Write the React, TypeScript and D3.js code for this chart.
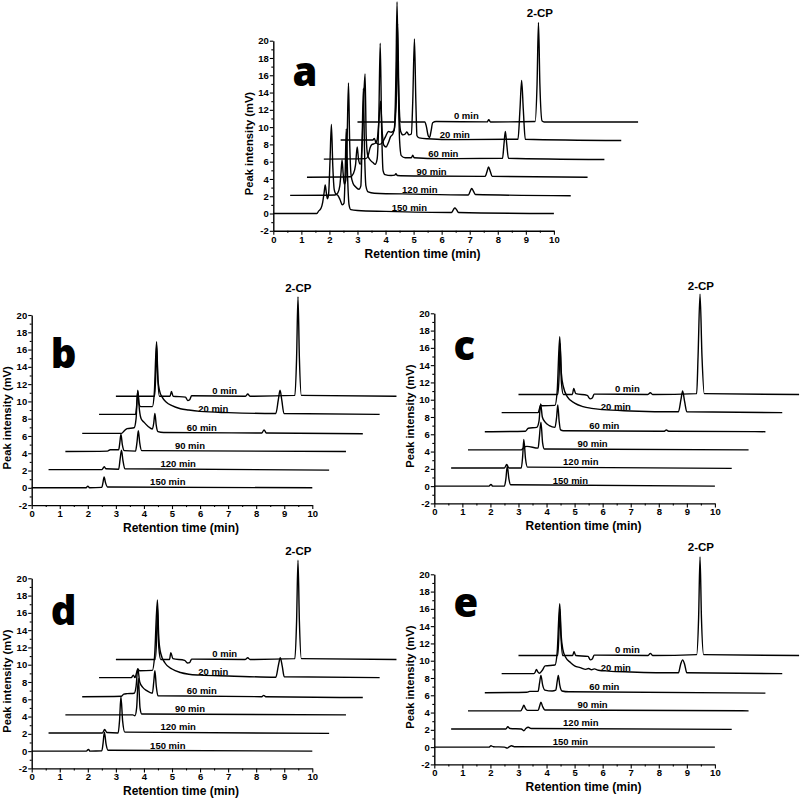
import React, { useEffect, useRef } from "react";
import * as d3 from "d3";

type Pt = [number, number];

// trace names, top (0 min) to bottom (150 min)
const timeLabels = ["0 min", "20 min", "60 min", "90 min", "120 min", "150 min"];
const traceBase = [10.6, 8.5, 6.3, 4.2, 2.1, 0];
const labelX = [6.88, 6.47, 6.06, 5.64, 5.22, 4.85];

const xTickValues = [0, 1, 2, 3, 4, 5, 6, 7, 8, 9, 10];
const xMinorValues = [0.5, 1.5, 2.5, 3.5, 4.5, 5.5, 6.5, 7.5, 8.5, 9.5];
const yTickValues = [-2, 0, 2, 4, 6, 8, 10, 12, 14, 16, 18, 20];
const yMinorValues = [-1, 1, 3, 5, 7, 9, 11, 13, 15, 17, 19];

const panelLetters = ["a", "b", "c", "d", "e"];
const letterY = [14.8, 13.9, 14.6, 14.6, 15.1];

// points (retention time as plotted, intensity as plotted)
const tracesA: Pt[][] = [
  [[3.0, 10.6], [4.32, 10.6], [4.37, 13], [4.43, 22], [4.48, 13], [4.54, 10.6], [5.4, 10.6], [5.46, 10.0], [5.52, 9.0], [5.57, 8.8], [5.62, 9.5], [5.68, 10.5], [5.8, 10.65], [7.62, 10.6], [7.68, 10.85], [7.74, 10.6], [9.33, 10.65], [9.4, 15], [9.45, 22.1], [9.5, 15], [9.58, 10.7], [9.65, 10.6], [13.0, 10.6]],
  [[2.4, 8.5], [3.55, 8.5], [3.6, 8.7], [3.66, 8.2], [3.8, 8.0], [3.9, 8.3], [4.0, 8.9], [4.1, 9.5], [4.2, 9.4], [4.3, 9.6], [4.38, 13], [4.43, 19], [4.48, 12], [4.54, 9.5], [4.62, 9.1], [4.7, 9.2], [4.76, 9.45], [4.83, 9.1], [4.92, 9.2], [4.97, 13], [5.03, 20.2], [5.08, 13], [5.12, 9.0], [5.2, 8.75], [5.5, 8.65], [6.5, 8.55], [8.72, 8.6], [8.79, 12], [8.85, 15.4], [8.91, 12], [8.98, 8.6], [12.4, 8.45]],
  [[1.8, 6.3], [3.3, 6.35], [3.38, 6.7], [3.45, 7.6], [3.52, 8.0], [3.62, 8.1], [3.7, 8.5], [3.76, 10.5], [3.82, 13.0], [3.88, 9.5], [3.94, 7.9], [4.02, 7.7], [4.1, 8.2], [4.18, 8.9], [4.26, 9.2], [4.32, 10], [4.37, 16], [4.41, 24.5], [4.45, 16], [4.5, 8.5], [4.56, 6.7], [4.7, 6.45], [4.92, 6.45], [4.97, 6.75], [5.02, 6.45], [6, 6.35], [8.17, 6.4], [8.22, 8], [8.27, 9.5], [8.32, 8], [8.38, 6.4], [11.8, 6.25]],
  [[1.2, 4.2], [2.75, 4.25], [2.85, 4.6], [2.93, 5.6], [2.99, 7.7], [3.04, 6.2], [3.1, 5.7], [3.17, 8.5], [3.22, 13], [3.27, 16.15], [3.31, 9], [3.36, 6.8], [3.45, 6.2], [3.55, 5.9], [3.63, 5.7], [3.7, 6.3], [3.76, 11], [3.81, 19.7], [3.86, 10], [3.91, 5.0], [3.98, 4.5], [4.2, 4.4], [4.33, 4.45], [4.37, 4.6], [4.42, 4.4], [5, 4.35], [7.55, 4.3], [7.62, 4.9], [7.67, 5.4], [7.73, 4.9], [7.8, 4.3], [11.2, 4.2]],
  [[0.6, 2.1], [2.2, 2.15], [2.3, 2.4], [2.37, 3.2], [2.41, 4.6], [2.45, 6.2], [2.49, 4.6], [2.53, 3.4], [2.58, 3.8], [2.63, 8.5], [2.68, 15.1], [2.72, 8.5], [2.77, 4.5], [2.84, 3.5], [2.93, 3.1], [3.05, 2.8], [3.12, 3.2], [3.16, 7.5], [3.21, 14.5], [3.25, 7.5], [3.3, 3.2], [3.38, 2.5], [3.6, 2.35], [5.0, 2.25], [6.95, 2.15], [7.02, 2.6], [7.07, 2.9], [7.13, 2.6], [7.2, 2.2], [10.6, 2.05]],
  [[0, 0], [1.55, 0], [1.62, 0.3], [1.7, 0.6], [1.76, 1.3], [1.81, 2.4], [1.85, 3.3], [1.89, 2.4], [1.93, 1.7], [1.97, 2.2], [2.02, 6.0], [2.07, 10.3], [2.12, 5.5], [2.17, 2.8], [2.22, 2.3], [2.3, 2.1], [2.38, 1.6], [2.46, 1.0], [2.52, 1.2], [2.56, 4.5], [2.6, 9.8], [2.65, 4.0], [2.7, 1.0], [2.76, 0.45], [3.0, 0.35], [4.0, 0.25], [6.35, 0.12], [6.42, 0.45], [6.47, 0.65], [6.53, 0.45], [6.6, 0.12], [10, 0]],
];

const tracesB: Pt[][] = [
  [[3.0, 10.6], [4.38, 10.6], [4.42, 13], [4.45, 16.5], [4.49, 13], [4.55, 10.6], [4.93, 10.6], [4.98, 11.15], [5.04, 10.6], [5.48, 10.5], [5.56, 10.1], [5.63, 10.2], [5.7, 10.65], [7.62, 10.6], [7.7, 10.85], [7.78, 10.6], [9.38, 10.7], [9.44, 15], [9.49, 22.1], [9.54, 15], [9.61, 10.7], [13.0, 10.6]],
  [[2.4, 8.5], [3.7, 8.5], [3.74, 9.5], [3.78, 11.2], [3.82, 9.8], [3.88, 9.4], [4.3, 9.4], [4.37, 11], [4.45, 16.9], [4.5, 12.5], [4.56, 11.2], [4.65, 10.5], [4.8, 9.9], [5.0, 9.5], [5.3, 9.15], [5.6, 9.0], [6.0, 8.85], [7.0, 8.7], [8.7, 8.6], [8.79, 10.2], [8.85, 11.3], [8.91, 10.2], [8.99, 8.6], [12.4, 8.5]],
  [[1.8, 6.3], [3.2, 6.3], [3.3, 6.6], [3.4, 6.85], [3.65, 6.95], [3.72, 8.0], [3.78, 11.3], [3.84, 9.0], [3.9, 8.0], [4.0, 7.6], [4.15, 7.1], [4.3, 6.8], [4.35, 7.5], [4.39, 8.6], [4.44, 7.2], [4.5, 6.5], [4.7, 6.4], [8.2, 6.35], [8.28, 6.7], [8.36, 6.35], [11.8, 6.25]],
  [[1.2, 4.2], [2.7, 4.25], [2.8, 4.4], [3.1, 4.4], [3.14, 5.2], [3.18, 6.2], [3.23, 5.0], [3.3, 4.3], [3.7, 4.25], [3.75, 5.2], [3.8, 6.6], [3.85, 5.2], [3.92, 4.3], [11.2, 4.2]],
  [[0.6, 2.1], [2.5, 2.1], [2.55, 2.3], [2.59, 2.45], [2.64, 2.2], [3.1, 2.15], [3.15, 3.3], [3.2, 4.35], [3.25, 3.2], [3.32, 2.2], [10.6, 2.05]],
  [[0, 0], [1.94, 0], [2.0, 0.2], [2.06, 0], [2.5, 0.05], [2.54, 0.6], [2.58, 1.27], [2.63, 0.6], [2.7, 0.1], [10, 0]],
];

const tracesC: Pt[][] = [
  [[3.0, 10.6], [4.4, 10.6], [4.45, 13], [4.48, 16.5], [4.53, 12], [4.6, 10.6], [4.92, 10.6], [4.97, 11.3], [5.04, 10.7], [5.45, 10.5], [5.55, 10.1], [5.63, 10.2], [5.7, 10.65], [7.6, 10.6], [7.7, 10.8], [7.78, 10.6], [9.35, 10.7], [9.4, 15], [9.47, 22.2], [9.54, 15], [9.62, 10.7], [13.0, 10.6]],
  [[2.4, 8.5], [3.7, 8.5], [3.75, 9.0], [3.79, 9.4], [3.85, 9.3], [4.3, 9.35], [4.38, 11], [4.47, 17.3], [4.53, 13], [4.6, 11.5], [4.75, 10.3], [5.0, 9.6], [5.3, 9.2], [5.6, 9.0], [6.0, 8.85], [7.0, 8.7], [8.7, 8.6], [8.79, 10], [8.85, 11.0], [8.92, 9.8], [9.0, 8.6], [12.4, 8.5]],
  [[1.8, 6.3], [3.25, 6.35], [3.35, 6.7], [3.65, 6.8], [3.73, 7.5], [3.79, 9.5], [3.85, 8.0], [3.95, 7.4], [4.1, 7.0], [4.3, 6.8], [4.36, 8], [4.4, 9.4], [4.45, 7.5], [4.5, 6.5], [4.6, 6.4], [8.2, 6.35], [8.27, 6.5], [8.35, 6.35], [11.8, 6.3]],
  [[1.2, 4.2], [3.1, 4.2], [3.2, 4.5], [3.3, 4.6], [3.7, 4.4], [3.74, 5.5], [3.8, 7.4], [3.86, 5.0], [3.92, 4.3], [11.2, 4.2]],
  [[0.6, 2.1], [2.5, 2.1], [2.58, 2.5], [2.66, 2.1], [3.1, 2.1], [3.15, 3.5], [3.19, 5.4], [3.25, 3.2], [3.32, 2.2], [10.6, 2.05]],
  [[0, 0], [1.95, 0], [2.02, 0.2], [2.08, 0], [2.5, 0], [2.55, 0.8], [2.6, 2.3], [2.66, 0.8], [2.72, 0.15], [10, 0]],
];

const tracesD: Pt[][] = [
  [[3.0, 10.6], [4.4, 10.6], [4.45, 13], [4.48, 16.8], [4.53, 12], [4.6, 10.6], [4.91, 10.6], [4.96, 11.4], [5.03, 10.7], [5.45, 10.5], [5.55, 10.2], [5.63, 10.25], [5.7, 10.65], [7.6, 10.6], [7.7, 10.8], [7.78, 10.6], [9.38, 10.7], [9.44, 15], [9.49, 22.1], [9.54, 15], [9.61, 10.7], [13.0, 10.6]],
  [[2.4, 8.5], [3.55, 8.5], [3.62, 8.8], [3.68, 8.5], [3.73, 9.0], [3.78, 9.5], [3.84, 9.3], [4.3, 9.35], [4.38, 11], [4.48, 17.5], [4.53, 13], [4.6, 11.3], [4.75, 10.2], [5.0, 9.5], [5.3, 9.1], [5.6, 8.9], [6.0, 8.8], [7.0, 8.7], [8.7, 8.55], [8.79, 9.9], [8.86, 10.8], [8.93, 9.8], [9.0, 8.6], [12.4, 8.5]],
  [[1.8, 6.3], [3.2, 6.35], [3.28, 6.6], [3.4, 6.65], [3.65, 6.7], [3.72, 7.5], [3.78, 9.55], [3.85, 8.0], [3.95, 7.4], [4.1, 7.0], [4.3, 6.7], [4.35, 8], [4.39, 9.3], [4.44, 7.5], [4.5, 6.4], [8.2, 6.3], [8.27, 6.45], [8.34, 6.3], [11.8, 6.2]],
  [[1.2, 4.2], [3.6, 4.2], [3.68, 4.1], [3.74, 5.0], [3.8, 8.4], [3.86, 5.0], [3.92, 4.3], [11.2, 4.2]],
  [[0.6, 2.1], [2.52, 2.1], [2.6, 2.5], [2.68, 2.15], [3.08, 2.1], [3.13, 3.5], [3.18, 6.3], [3.24, 3.5], [3.32, 2.2], [10.6, 2.05]],
  [[0, 0], [1.95, 0], [2.02, 0.2], [2.08, 0], [2.5, 0.05], [2.54, 0.8], [2.59, 2.2], [2.65, 0.8], [2.72, 0.1], [10, 0]],
];

const tracesE: Pt[][] = [
  [[3.0, 10.6], [4.4, 10.6], [4.44, 13], [4.47, 16], [4.51, 13], [4.57, 10.6], [4.93, 10.6], [4.98, 11.05], [5.04, 10.6], [5.48, 10.5], [5.56, 10.1], [5.63, 10.2], [5.7, 10.65], [7.62, 10.6], [7.7, 10.85], [7.78, 10.6], [9.35, 10.7], [9.42, 15], [9.47, 22.0], [9.52, 15], [9.6, 10.7], [13.0, 10.6]],
  [[2.4, 8.5], [3.55, 8.5], [3.6, 8.7], [3.64, 9.0], [3.69, 8.7], [3.75, 8.55], [3.85, 8.9], [3.95, 9.4], [4.3, 9.5], [4.38, 11], [4.47, 16.6], [4.52, 13], [4.58, 11.3], [4.68, 10.4], [4.85, 9.8], [5.0, 9.4], [5.2, 9.2], [5.4, 9.0], [5.5, 9.1], [5.6, 8.95], [5.7, 9.05], [5.85, 8.9], [6.2, 8.8], [7.0, 8.7], [8.7, 8.6], [8.78, 9.6], [8.85, 10.1], [8.92, 9.6], [9.0, 8.6], [12.4, 8.5]],
  [[1.8, 6.3], [3.3, 6.35], [3.4, 6.45], [3.7, 6.45], [3.75, 7.4], [3.8, 8.3], [3.86, 7.2], [3.94, 6.6], [4.2, 6.5], [4.33, 6.6], [4.38, 7.6], [4.42, 8.3], [4.47, 7.2], [4.55, 6.5], [4.8, 6.4], [11.8, 6.25]],
  [[1.2, 4.2], [3.08, 4.2], [3.14, 4.5], [3.19, 4.85], [3.25, 4.45], [3.32, 4.25], [3.7, 4.25], [3.75, 4.7], [3.8, 5.2], [3.86, 4.7], [3.94, 4.3], [11.2, 4.2]],
  [[0.6, 2.1], [2.55, 2.1], [2.62, 2.35], [2.7, 2.15], [3.1, 2.1], [3.19, 1.9], [3.26, 2.15], [3.35, 2.3], [3.45, 2.15], [10.6, 2.05]],
  [[0, 0], [1.95, 0], [2.02, 0.15], [2.1, 0.05], [2.5, 0], [2.6, -0.12], [2.68, 0.05], [2.75, 0.15], [2.85, 0.05], [10, 0]],
];

const panelTraces = [tracesA, tracesB, tracesC, tracesD, tracesE];

// pixel position of each panel's (x = 0, y = 20) corner
const panelOrigins = [
  { left: 273.3, top: 40.7 },
  { left: 31.7, top: 315 },
  { left: 434.3, top: 313.3 },
  { left: 31.7, top: 578.3 },
  { left: 434.3, top: 574.3 },
];

const PLOT_W = 280.6;
const PLOT_H = 190.1;
const FONT = "'Liberation Sans', Arial, sans-serif";

export default function App() {
  const svgRef = useRef<SVGSVGElement | null>(null);

  useEffect(() => {
    const svg = d3.select(svgRef.current);
    svg.selectAll("*").remove();

    panelTraces.forEach((traces, k) => {
      const { left, top } = panelOrigins[k];
      const x = d3.scaleLinear().domain([0, 10]).range([left, left + PLOT_W]);
      const y = d3.scaleLinear().domain([-2, 20]).range([top + PLOT_H, top]);
      const g = svg.append("g");

      // === axes ===
      const styleAxis = (ax: d3.Selection<SVGGElement, unknown, null, undefined>) => {
        ax.attr("font-family", FONT).attr("font-size", 9.5).attr("font-weight", "bold");
        ax.selectAll(".domain").attr("stroke", "#000").attr("stroke-width", 1.4);
        ax.selectAll(".tick line").attr("stroke", "#000").attr("stroke-width", 1.1);
        ax.selectAll(".tick text").attr("fill", "#000");
      };

      const gx = g.append("g").attr("transform", `translate(0,${y(-2)})`)
        .call(d3.axisBottom(x).tickValues(xTickValues).tickSize(4).tickSizeOuter(0).tickPadding(1).tickFormat((d) => String(d)));
      styleAxis(gx);
      const gxm = g.append("g").attr("transform", `translate(0,${y(-2)})`)
        .call(d3.axisBottom(x).tickValues(xMinorValues).tickSize(2).tickSizeOuter(0).tickFormat(() => ""));
      styleAxis(gxm);
      gxm.select(".domain").remove();

      const gy = g.append("g").attr("transform", `translate(${x(0)},0)`)
        .call(d3.axisLeft(y).tickValues(yTickValues).tickSize(3.5).tickSizeOuter(0).tickPadding(1).tickFormat((d) => String(d)));
      styleAxis(gy);
      const gym = g.append("g").attr("transform", `translate(${x(0)},0)`)
        .call(d3.axisLeft(y).tickValues(yMinorValues).tickSize(2).tickSizeOuter(0).tickFormat(() => ""));
      styleAxis(gym);
      gym.select(".domain").remove();

      // === axis titles ===
      g.append("text")
        .attr("x", x(5.32)).attr("y", y(-2) + 27)
        .attr("text-anchor", "middle")
        .attr("font-family", FONT).attr("font-size", 12).attr("font-weight", "bold")
        .text("Retention time (min)");
      g.append("text")
        .attr("transform", `translate(${x(0) - 20.5},${y(8.1)}) rotate(-90)`)
        .attr("text-anchor", "middle")
        .attr("font-family", FONT).attr("font-size", 11.2).attr("font-weight", "bold")
        .text("Peak intensity (mV)");

      // === chromatogram traces ===
      const lineGen = d3.line<Pt>()
        .x((d) => x(d[0]))
        .y((d) => y(d[1]))
        .curve(d3.curveMonotoneX);

      g.selectAll("path.trace")
        .data(traces)
        .enter()
        .append("path")
        .attr("class", "trace")
        .attr("fill", "none")
        .attr("stroke", "#000")
        .attr("stroke-width", 1.4)
        .attr("stroke-linejoin", "round")
        .attr("d", (d) => lineGen(d));

      // === trace labels ===
      g.selectAll("text.tlabel")
        .data(timeLabels)
        .enter()
        .append("text")
        .attr("class", "tlabel")
        .attr("x", (_, i) => x(labelX[i]))
        .attr("y", (_, i) => y(traceBase[i]) - 2.5)
        .attr("text-anchor", "middle")
        .attr("font-family", FONT).attr("font-size", 9.5).attr("font-weight", "bold")
        .text((d) => d);

      g.append("text")
        .attr("x", x(9.5)).attr("y", y(22.7))
        .attr("text-anchor", "middle")
        .attr("font-family", FONT).attr("font-size", 11.5).attr("font-weight", "bold")
        .text("2-CP");

      g.append("text")
        .attr("x", x(0.68)).attr("y", y(letterY[k]))
        .attr("font-family", "'Open Sans', sans-serif").attr("font-size", 40).attr("font-weight", 800)
        .text(panelLetters[k]);
    });
  }, []);

  return (
    <div style={{ position: "absolute", left: 0, top: 0, width: 801, height: 802, background: "#fff" }}>
      <svg ref={svgRef} width={801} height={802} style={{ display: "block" }} />
    </div>
  );
}
